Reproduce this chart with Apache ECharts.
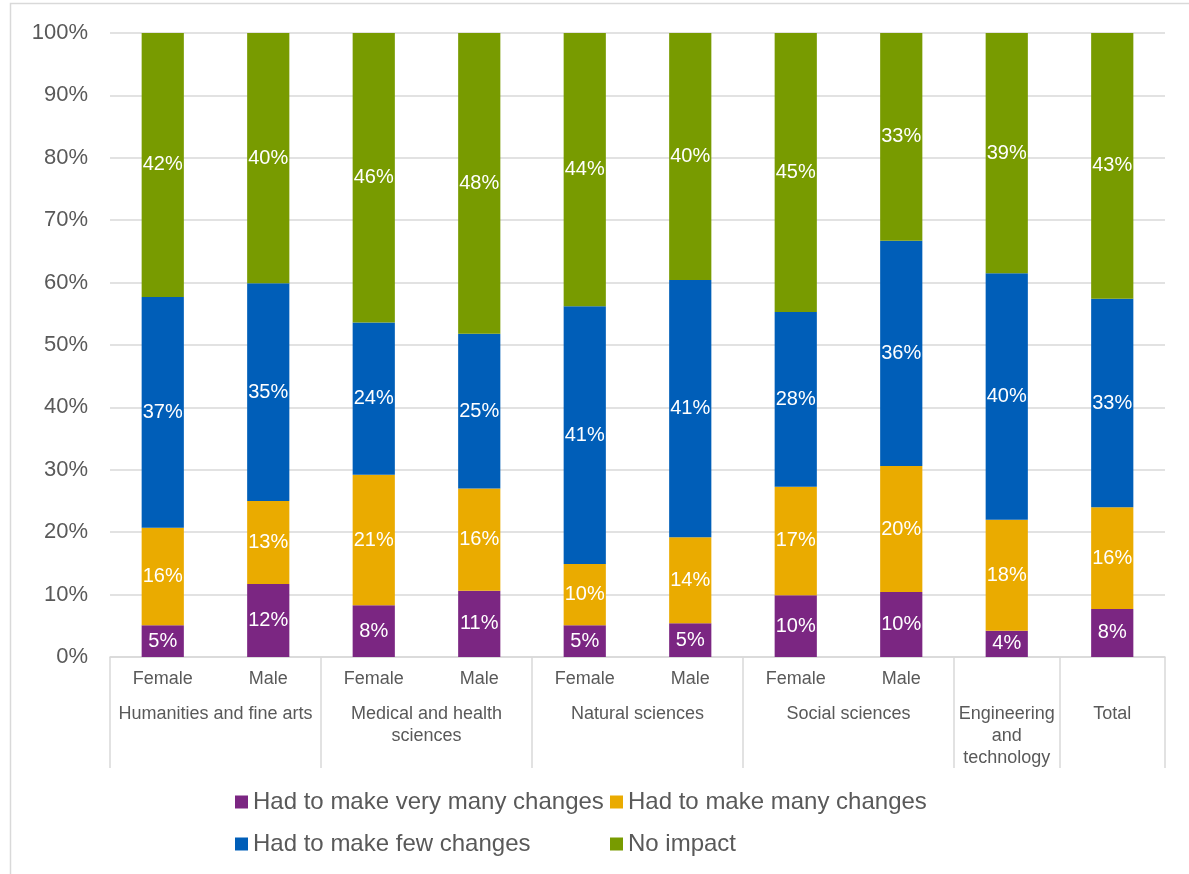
<!DOCTYPE html>
<html>
<head>
<meta charset="utf-8">
<title>Changes by field and gender</title>
<script src="https://cdn.jsdelivr.net/npm/echarts@6/dist/echarts.min.js"></script>
<style>
  html, body { margin: 0; padding: 0; background: #ffffff; }
  #chart { width: 1189px; height: 874px; }
</style>
</head>
<body>
<div id="chart"></div>
<script>
// Bars: one per field/gender combination
const categories = ['Female', 'Male', 'Female', 'Male', 'Female', 'Male', 'Female', 'Male', '', ''];

// Field groups shown on the second label row, with the number of bars each spans
const groupNames = ['Humanities and fine arts', 'Medical and health\nsciences', 'Natural sciences',
                    'Social sciences', 'Engineering\nand\ntechnology', 'Total'];
const groupSpans = [2, 2, 2, 2, 1, 1];

// Shares of respondents (%)
const veryManyChanges = [5.1, 11.7, 8.3, 10.6, 5.1, 5.4, 9.9, 10.4, 4.2, 7.7];
const manyChanges     = [15.6, 13.3, 20.9, 16.4, 9.8, 13.8, 17.4, 20.2, 17.8, 16.3];
const fewChanges      = [37.0, 34.9, 24.4, 24.8, 41.3, 41.2, 28.0, 36.1, 39.5, 33.4];
const noImpact        = [42.3, 40.1, 46.4, 48.2, 43.8, 39.6, 44.7, 33.3, 38.5, 42.6];

const seriesNames = ['Had to make very many changes', 'Had to make many changes',
                     'Had to make few changes', 'No impact'];
const seriesColors = ['#7B2682', '#EAAB00', '#005EB8', '#789B00'];
const seriesValues = [veryManyChanges, manyChanges, fewChanges, noImpact];

// Group axis runs in half-bar steps: 0 .. 2*n, boundaries and centres fall on those steps
const halfSlots = categories.length * 2;
const groupSlots = new Array(halfSlots + 1).fill('');
const boundarySet = new Set([0]);
const centreSet = new Set();
let pos = 0;
groupNames.forEach((name, i) => {
  const centre = pos + groupSpans[i];
  groupSlots[centre] = name;
  centreSet.add(centre);
  pos += groupSpans[i] * 2;
  boundarySet.add(pos);
});

const textColor = '#595959';
const lineColor = '#d9d9d9';
const font = 'Liberation Sans, Arial, sans-serif';

const chart = echarts.init(document.getElementById('chart'), null, { renderer: 'canvas' });

const series = seriesNames.map((name, i) => ({
  name: name,
  type: 'bar',
  stack: 'share',
  xAxisIndex: 0,
  barWidth: '40%',
  itemStyle: { color: seriesColors[i] },
  label: {
    show: true,
    position: 'inside',
    color: '#ffffff',
    fontSize: 20,
    fontFamily: font,
    formatter: p => Math.round(p.value) + '%'
  },
  emphasis: { disabled: true },
  data: seriesValues[i]
}));

const legendCommon = {
  orient: 'vertical',
  icon: 'rect',
  padding: 0,
  itemWidth: 13,
  itemHeight: 13,
  itemGap: 18,
  selectedMode: false,
  textStyle: { color: textColor, fontSize: 24, fontFamily: font }
};

chart.setOption({
  animation: false,
  backgroundColor: '#ffffff',
  graphic: [{
    type: 'rect',
    shape: { x: 10.5, y: 3.5, width: 1300, height: 1000 },
    style: { fill: 'none', stroke: lineColor, lineWidth: 1.5 },
    silent: true,
    z: -10
  }],
  grid: { left: 110, right: 24, top: 33, bottom: 217, containLabel: false },
  legend: [
    Object.assign({ left: 235, top: 790, data: [seriesNames[0], seriesNames[2]] }, legendCommon),
    Object.assign({ left: 610, top: 790, data: [seriesNames[1], seriesNames[3]] }, legendCommon)
  ],
  xAxis: [
    {
      type: 'category',
      position: 'bottom',
      data: categories,
      axisLine: { show: true, lineStyle: { color: lineColor, width: 1.5 } },
      axisTick: { show: false },
      axisLabel: { color: textColor, fontSize: 18, fontFamily: font, margin: 13, interval: 0 }
    },
    {
      type: 'category',
      position: 'bottom',
      boundaryGap: false,
      data: groupSlots,
      axisLine: { show: false },
      axisTick: {
        show: true,
        length: 111,
        interval: idx => boundarySet.has(idx),
        lineStyle: { color: lineColor, width: 1.5 }
      },
      axisLabel: {
        color: textColor,
        fontSize: 18,
        fontFamily: font,
        lineHeight: 22,
        margin: 46,
        align: 'center',
        interval: idx => centreSet.has(idx)
      },
      splitLine: { show: false }
    }
  ],
  yAxis: {
    type: 'value',
    min: 0,
    max: 100,
    interval: 10,
    axisLine: { show: false },
    axisTick: { show: false },
    splitLine: { lineStyle: { color: lineColor, width: 1.5 } },
    axisLabel: { color: textColor, fontSize: 22, fontFamily: font, margin: 22, formatter: '{value}%' }
  },
  series: series
});
</script>
</body>
</html>
